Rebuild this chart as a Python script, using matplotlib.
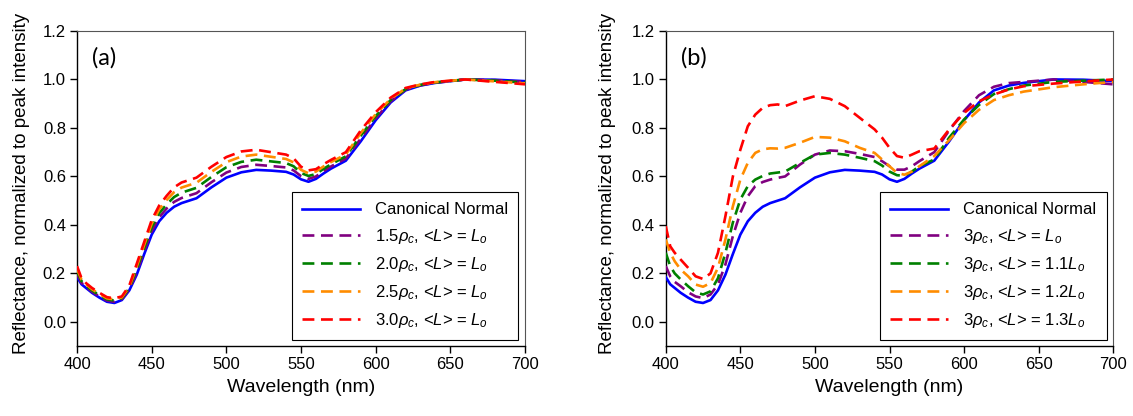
import matplotlib
matplotlib.use('Agg')
import matplotlib.pyplot as plt
import numpy as np

plt.rcParams['font.family'] = ['Liberation Sans', 'DejaVu Sans']
plt.rcParams['mathtext.fontset'] = 'custom'
plt.rcParams['mathtext.rm'] = 'Liberation Sans'
plt.rcParams['mathtext.it'] = 'Liberation Sans:italic'

# Longitudes de onda (nm)
wl = [400, 403, 406, 410, 415, 420, 425, 430, 435, 440, 445, 450, 455, 460, 465, 470,
      475, 480, 490, 500, 510, 520, 530, 540, 545, 550, 555, 560, 565, 570, 580, 590,
      600, 610, 620, 630, 640, 660, 680, 700]

# Curva canonica (igual en ambos paneles)
canonical = [0.185, 0.155, 0.140, 0.120, 0.100, 0.083, 0.078, 0.090, 0.130, 0.195, 0.280, 0.360,
             0.415, 0.450, 0.475, 0.490, 0.500, 0.510, 0.555, 0.595, 0.617, 0.627, 0.624, 0.619,
             0.608, 0.588, 0.578, 0.590, 0.612, 0.632, 0.665, 0.745, 0.832, 0.905, 0.955, 0.975,
             0.986, 1.000, 0.999, 0.993]

# Panel (a)
a_15 = [0.197, 0.161, 0.145, 0.125, 0.105, 0.088, 0.083, 0.094, 0.135, 0.206, 0.293, 0.375,
        0.431, 0.468, 0.495, 0.511, 0.521, 0.531, 0.576, 0.616, 0.639, 0.648, 0.643, 0.637,
        0.625, 0.601, 0.590, 0.600, 0.622, 0.641, 0.674, 0.756, 0.840, 0.910, 0.958, 0.976,
        0.987, 1.000, 0.997, 0.990]
a_20 = [0.208, 0.168, 0.150, 0.130, 0.110, 0.093, 0.088, 0.098, 0.140, 0.218, 0.305, 0.390,
        0.448, 0.485, 0.515, 0.533, 0.543, 0.553, 0.598, 0.638, 0.660, 0.669, 0.662, 0.655,
        0.642, 0.614, 0.602, 0.610, 0.631, 0.650, 0.683, 0.768, 0.849, 0.915, 0.960, 0.978,
        0.988, 1.000, 0.995, 0.987]
a_25 = [0.219, 0.174, 0.155, 0.135, 0.115, 0.097, 0.093, 0.101, 0.145, 0.229, 0.318, 0.405,
        0.464, 0.503, 0.535, 0.554, 0.564, 0.574, 0.619, 0.659, 0.682, 0.690, 0.681, 0.672,
        0.658, 0.627, 0.613, 0.620, 0.641, 0.659, 0.691, 0.779, 0.857, 0.920, 0.963, 0.979,
        0.989, 1.000, 0.992, 0.984]
a_30 = [0.230, 0.180, 0.160, 0.140, 0.120, 0.102, 0.097, 0.105, 0.150, 0.240, 0.330, 0.420,
        0.480, 0.520, 0.555, 0.575, 0.585, 0.595, 0.640, 0.680, 0.703, 0.710, 0.700, 0.690,
        0.675, 0.640, 0.625, 0.630, 0.650, 0.668, 0.700, 0.790, 0.865, 0.925, 0.965, 0.980,
        0.990, 1.000, 0.990, 0.980]

# Panel (b)
b_10 = [0.230, 0.188, 0.165, 0.147, 0.122, 0.105, 0.098, 0.113, 0.154, 0.237, 0.354, 0.450,
        0.518, 0.560, 0.577, 0.587, 0.594, 0.600, 0.649, 0.690, 0.707, 0.704, 0.693, 0.680,
        0.663, 0.642, 0.628, 0.628, 0.642, 0.663, 0.700, 0.790, 0.870, 0.935, 0.970, 0.985,
        0.990, 1.000, 0.990, 0.980]
b_11 = [0.285, 0.230, 0.200, 0.175, 0.147, 0.122, 0.113, 0.126, 0.180, 0.285, 0.410, 0.505,
        0.560, 0.587, 0.602, 0.612, 0.616, 0.620, 0.656, 0.690, 0.697, 0.690, 0.677, 0.663,
        0.645, 0.620, 0.605, 0.603, 0.620, 0.642, 0.670, 0.760, 0.835, 0.895, 0.940, 0.960,
        0.975, 0.990, 0.995, 1.000]
b_12 = [0.340, 0.285, 0.250, 0.216, 0.188, 0.154, 0.145, 0.160, 0.223, 0.340, 0.477, 0.587,
        0.656, 0.697, 0.712, 0.716, 0.715, 0.718, 0.739, 0.763, 0.760, 0.745, 0.718, 0.697,
        0.670, 0.642, 0.615, 0.607, 0.620, 0.642, 0.684, 0.750, 0.820, 0.875, 0.915, 0.935,
        0.950, 0.968, 0.980, 0.990]
b_13 = [0.395, 0.312, 0.285, 0.257, 0.223, 0.188, 0.177, 0.200, 0.285, 0.436, 0.600, 0.710,
        0.807, 0.855, 0.883, 0.894, 0.897, 0.890, 0.913, 0.931, 0.920, 0.890, 0.842, 0.794,
        0.760, 0.718, 0.684, 0.677, 0.690, 0.704, 0.715, 0.794, 0.862, 0.910, 0.938, 0.959,
        0.972, 0.983, 0.992, 1.000]

labels_a = ['Canonical Normal',
            r'1.5$\rho_c$, <$L$> = $L_o$',
            r'2.0$\rho_c$, <$L$> = $L_o$',
            r'2.5$\rho_c$, <$L$> = $L_o$',
            r'3.0$\rho_c$, <$L$> = $L_o$']
labels_b = ['Canonical Normal',
            r'3$\rho_c$, <$L$> = $L_o$',
            r'3$\rho_c$, <$L$> = 1.1$L_o$',
            r'3$\rho_c$, <$L$> = 1.2$L_o$',
            r'3$\rho_c$, <$L$> = 1.3$L_o$']

colors = ['#0000FF', '#800080', '#008000', '#FF8C00', '#FF0000']

fig = plt.figure(figsize=(11.33, 4.16), dpi=100)
ax_a = fig.add_axes([0.068, 0.168, 0.3954, 0.7575])
ax_b = fig.add_axes([0.5876, 0.168, 0.395, 0.7575])


def draw_panel(ax, series, labels, tag, ylab_x):
    for i, (ys, lab) in enumerate(zip(series, labels)):
        if i == 0:
            ax.plot(wl, ys, color=colors[i], lw=1.9, label=lab, zorder=3)
        else:
            ax.plot(wl, ys, color=colors[i], lw=1.9, ls=(0, (4.5, 2.5)), label=lab, zorder=4 + i)
    ax.set_xlim(400, 700)
    ax.set_ylim(-0.1, 1.2)
    ax.set_xticks(np.arange(400, 701, 50))
    ax.set_yticks(np.arange(0, 1.21, 0.2))
    ax.set_yticklabels(['%.1f' % v for v in np.arange(0, 1.21, 0.2)])
    ax.tick_params(axis='both', labelsize=12, length=5, width=1, direction='out',
                   top=False, right=False, pad=3)
    for s in ['top', 'right']:
        ax.spines[s].set_color('#555555')
        ax.spines[s].set_linewidth(0.8)
    for s in ['left', 'bottom']:
        ax.spines[s].set_linewidth(1.0)
    ax.set_xlabel('Wavelength (nm)', fontsize=14, labelpad=5)
    ax.set_ylabel('Reflectance, normalized to peak intensity', fontsize=13.5)
    ax.yaxis.set_label_coords(ylab_x, 0.515)
    ax.text(0.033, 0.915, tag, transform=ax.transAxes, fontsize=17, va='center', ha='left',
            family=['Lato', 'DejaVu Sans'])
    leg = ax.legend(loc='lower right', bbox_to_anchor=(0.985, 0.019), borderaxespad=0,
                    fontsize=12, handlelength=3.5, labelspacing=0.55, handletextpad=0.9,
                    fancybox=False, framealpha=1, edgecolor='black', borderpad=0.6)
    leg.get_frame().set_linewidth(0.8)


draw_panel(ax_a, [canonical, a_15, a_20, a_25, a_30], labels_a, '(a)', -0.105)
draw_panel(ax_b, [canonical, b_10, b_11, b_12, b_13], labels_b, '(b)', -0.112)

fig.savefig('out.png', dpi=100)
